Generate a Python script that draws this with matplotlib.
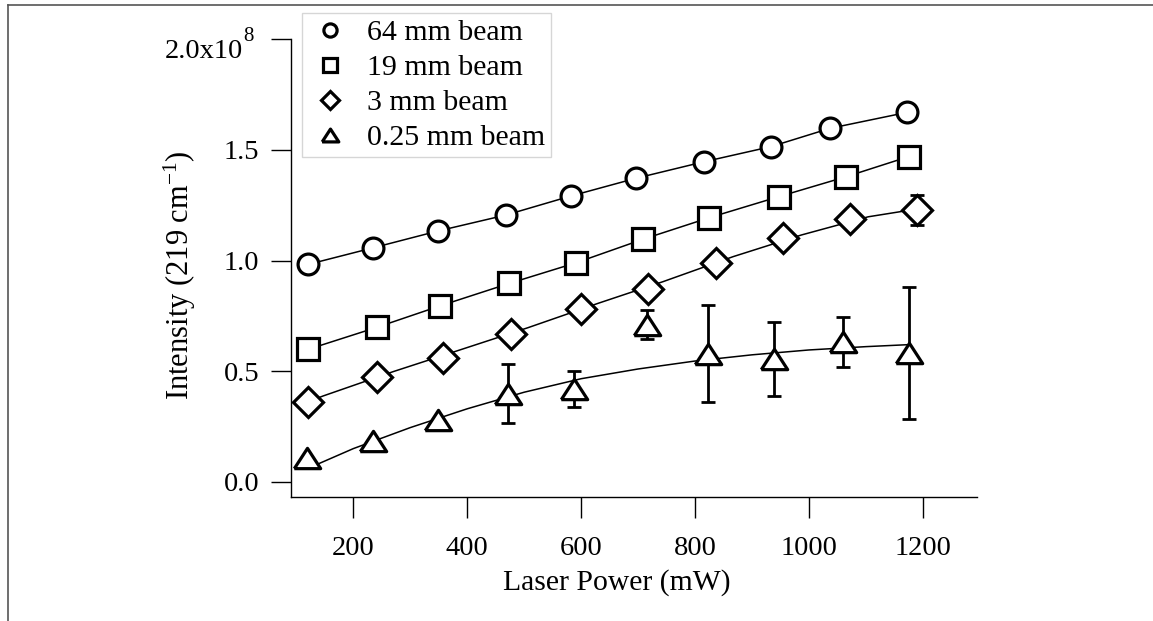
import matplotlib
matplotlib.use("Agg")
import matplotlib.pyplot as plt
from matplotlib.lines import Line2D
from matplotlib.transforms import ScaledTranslation

plt.rcParams['font.family'] = ['Liberation Serif', 'DejaVu Serif']
plt.rcParams['mathtext.fontset'] = 'custom'
plt.rcParams['mathtext.rm'] = 'Liberation Serif'
plt.rcParams['mathtext.it'] = 'Liberation Serif:italic'

# data (intensity in units of 1e8)
x_64 = [121, 235, 349, 468, 582, 696, 816, 933, 1037, 1172]
y_64 = [0.983, 1.058, 1.134, 1.206, 1.292, 1.372, 1.447, 1.515, 1.598, 1.670]

x_19 = [121, 241, 352, 474, 591, 708, 825, 947, 1065, 1175]
y_19 = [0.599, 0.698, 0.795, 0.897, 0.990, 1.096, 1.194, 1.289, 1.379, 1.470]

x_3 = [121, 241, 358, 477, 600, 717, 836, 955, 1072, 1189]
y_3 = [0.362, 0.472, 0.561, 0.667, 0.780, 0.872, 0.991, 1.104, 1.187, 1.229]
err_3 = [0, 0, 0, 0, 0, 0, 0, 0, 0, 0.067]

x_025 = [118, 235, 349, 472, 588, 715, 822, 939, 1060, 1175]
y_025 = [0.108, 0.185, 0.280, 0.398, 0.419, 0.711, 0.579, 0.555, 0.632, 0.583]
err_025 = [0, 0, 0, 0.134, 0.083, 0.065, 0.218, 0.166, 0.112, 0.297]

# fitted curves
fit3_x = [121, 147, 270, 387, 507, 630, 744, 867, 987, 1104, 1160, 1189]
fit3_y = [0.362, 0.388, 0.498, 0.596, 0.697, 0.807, 0.905, 1.018, 1.116, 1.198, 1.221, 1.232]
fit025_x = [118, 200, 300, 400, 500, 600, 700, 800, 900, 1000, 1100, 1175]
fit025_y = [0.058, 0.150, 0.245, 0.330, 0.405, 0.466, 0.510, 0.546, 0.574, 0.596, 0.611, 0.620]

labels = ['64 mm beam', '19 mm beam', '3 mm beam', '0.25 mm beam']
xtick_vals = [200, 400, 600, 800, 1000, 1200]
ytick_vals = [0.0, 0.5, 1.0, 1.5, 2.0]
ytick_labels = ['0.0', '0.5', '1.0', '1.5', '2.0x10']

W, H = 1153, 621
fig = plt.figure(figsize=(W / 100, H / 100), dpi=100)
ax = fig.add_axes([291 / W, (H - 496.7) / H, (977 - 291) / W, (496.7 - 39.4) / H])

tri = [(-1, -0.77), (1, -0.77), (0, 0.77), (-1, -0.77)]
mk = dict(mfc='white', mec='black', mew=2.3, ls='none', zorder=4)

ax.plot(x_64, y_64, color='black', lw=1.1, zorder=2)
ax.plot(x_19, y_19, color='black', lw=1.1, zorder=2)
ax.plot(fit3_x, fit3_y, color='black', lw=1.1, zorder=2)
ax.plot(fit025_x, fit025_y, color='black', lw=1.1, zorder=2)

ax.errorbar(x_3, y_3, yerr=err_3, fmt='none', ecolor='black', elinewidth=2,
            capsize=5.3, capthick=2, zorder=3)
ax.errorbar(x_025, y_025, yerr=err_025, fmt='none', ecolor='black', elinewidth=2,
            capsize=5.3, capthick=2, zorder=3)

ax.plot(x_64, y_64, marker='o', ms=15, **mk)
ax.plot(x_19, y_19, marker='s', ms=15.5, **mk)
ax.plot(x_3, y_3, marker='D', ms=15, **mk)
ax.plot(x_025, y_025, marker=tri, ms=19, **mk)

ax.set_xlim(90.6, 1295)
ax.set_ylim(-0.0674, 2.0)
ax.set_xticks(xtick_vals)
ax.set_yticks(ytick_vals)
ax.set_yticklabels(ytick_labels)
for s in ['top', 'right']:
    ax.spines[s].set_visible(False)
for s in ['left', 'bottom']:
    ax.spines[s].set_linewidth(1.0)
ax.tick_params(axis='both', direction='out', width=1.0, labelsize=20.5, colors='black')
ax.tick_params(axis='x', length=15, pad=13.5)
ax.tick_params(axis='y', length=14.4, pad=8.4)

# top label "2.0x10" sits a bit lower, with a raised exponent
top_lab = ax.get_yticklabels()[-1]
top_lab.set_transform(top_lab.get_transform() + ScaledTranslation(-0.16, -0.09, fig.dpi_scale_trans))
ax.annotate('8', xy=(1, 1), xycoords=top_lab, xytext=(0.3, -5), textcoords='offset points',
            fontsize=15, ha='left', va='bottom')

ax.set_xlabel('Laser Power (mW)', fontsize=21.3)
ax.xaxis.set_label_coords(0.475, -0.158)
ax.set_ylabel(r'Intensity (219 cm$^{\mathrm{-1}}$)', fontsize=22)
ax.yaxis.set_label_coords(-0.1356, 0.485)

lmk = dict(mfc='white', mec='black', mew=2.3, ls='none')
handles = [
    Line2D([], [], marker='o', ms=9.5, **lmk),
    Line2D([], [], marker='s', ms=9.5, **lmk),
    Line2D([], [], marker='D', ms=9, **lmk),
    Line2D([], [], marker=tri, ms=12, **lmk),
]
leg = fig.legend(handles, labels, loc='upper left',
                 bbox_to_anchor=(302.3 / W, 1 - 13.3 / H), borderaxespad=0,
                 fontsize=21.5, frameon=True, fancybox=False, handlelength=1.47,
                 handletextpad=0.48, labelspacing=0.27, borderpad=0.2)
leg.get_frame().set_edgecolor('#cccccc')
leg.get_frame().set_linewidth(1.0)

# outer frame lines (left and top)
fig.add_artist(Line2D([8.4 / W, 8.4 / W], [0, 1 - 4.5 / H], color='#555555', lw=1.2,
                      transform=fig.transFigure))
fig.add_artist(Line2D([8.4 / W, 1], [1 - 4.5 / H, 1 - 4.5 / H], color='#555555', lw=1.2,
                      transform=fig.transFigure))

fig.savefig('out.png', dpi=100)
